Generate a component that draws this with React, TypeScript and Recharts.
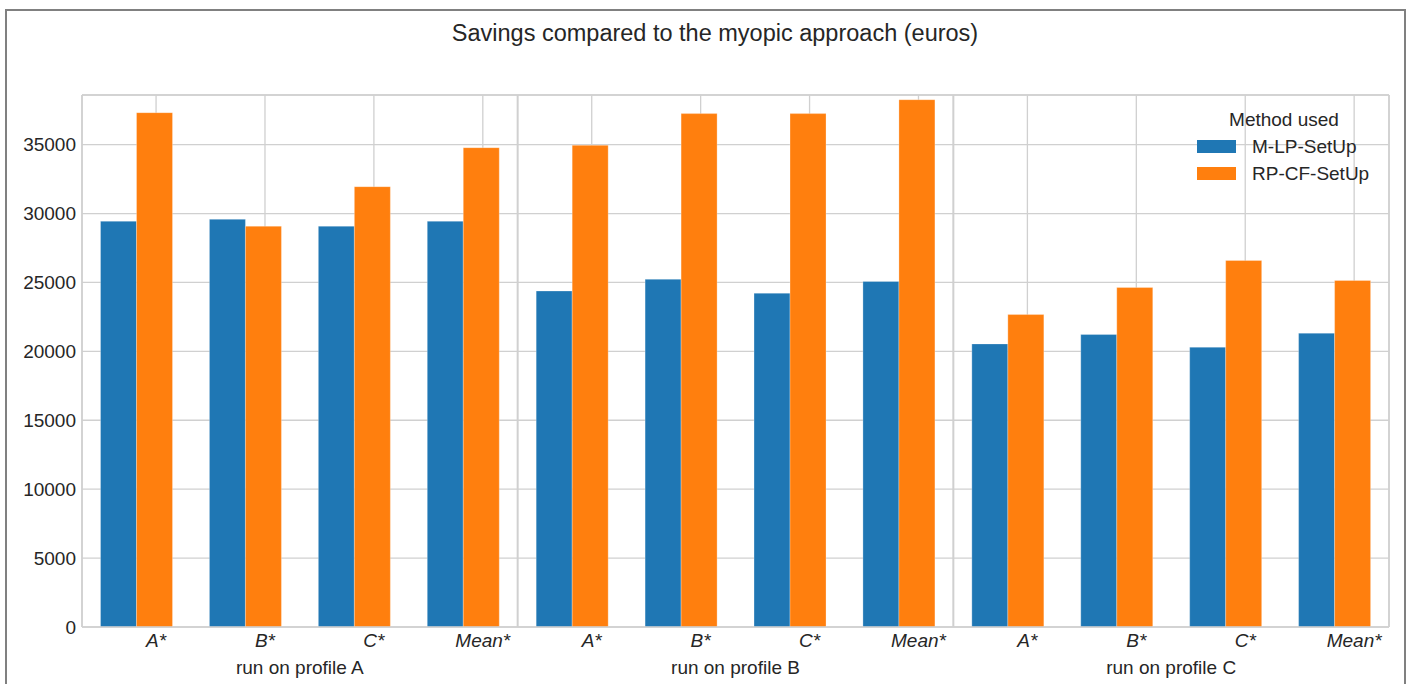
import React from 'react';
import {
  BarChart,
  Bar,
  XAxis,
  YAxis,
  CartesianGrid,
  ReferenceLine,
  Legend,
} from 'recharts';

// values (euros saved vs the myopic approach)
const profiles = ['run on profile A', 'run on profile B', 'run on profile C'];
const runs = ['A*', 'B*', 'C*', 'Mean*'];
const mlpSetUp = [29440, 29580, 29080, 29440, 24380, 25230, 24220, 25070, 20540, 21220, 20300, 21320];
const rpcfSetUp = [37320, 29080, 31950, 34780, 34950, 37250, 37250, 38260, 22670, 24630, 26590, 25140];
const yTicks = [0, 5000, 10000, 15000, 20000, 25000, 30000, 35000];

const BLUE = '#1f77b4';
const ORANGE = '#ff7f0e';
const GRID = '#d0d0d0';
const TEXT = '#262626';
const FONT = '"Liberation Sans", Arial, sans-serif';

const n = profiles.length * runs.length;
const data = mlpSetUp.map((v, i) => ({
  pos: i + 0.5,
  mlp: v,
  rpcf: rpcfSetUp[i],
}));
// tick labels sit under the second bar of each pair
const runTicks = data.map((_, i) => i + 0.68);
const profileTicks = profiles.map((_, g) => g * runs.length + runs.length / 2);

const series = [
  { key: 'mlp', name: 'M-LP-SetUp', color: BLUE },
  { key: 'rpcf', name: 'RP-CF-SetUp', color: ORANGE },
];

const LegendBox = () => (
  <div style={{ fontFamily: FONT, color: TEXT, fontSize: 19, width: 174 }}>
    <div style={{ textAlign: 'center', lineHeight: '27px' }}>Method used</div>
    {series.map((s) => (
      <div key={s.key} style={{ display: 'flex', alignItems: 'center', height: 27 }}>
        <span style={{ display: 'inline-block', width: 39, height: 13, background: s.color, marginRight: 16 }} />
        <span>{s.name}</span>
      </div>
    ))}
  </div>
);

export default function App() {
  return (
    <div style={{ position: 'absolute', left: 0, top: 0, width: 1408, height: 684, overflow: 'hidden', background: '#fff' }}>
      <div
        style={{
          position: 'absolute',
          left: 5,
          top: 9,
          width: 1397,
          height: 673,
          border: '2px solid #808080',
          borderBottom: 'none',
        }}
      />
      <div
        style={{
          position: 'absolute',
          left: 0,
          top: 18,
          width: 1430,
          textAlign: 'center',
          fontFamily: FONT,
          fontSize: 23.5,
          color: TEXT,
          lineHeight: '30px',
        }}
      >
        Savings compared to the myopic approach (euros)
      </div>
      <div style={{ position: 'absolute', left: 0, top: 0 }}>
        <BarChart
          width={1408}
          height={684}
          data={data}
          margin={{ top: 95, right: 19, left: 0, bottom: 0 }}
          barCategoryGap="17%"
          barGap={0}
        >
          <CartesianGrid xAxisId="lvl1" stroke={GRID} strokeWidth={1.3} />
          <XAxis
            xAxisId="lvl1"
            dataKey="pos"
            type="number"
            domain={[0, n]}
            ticks={runTicks}
            interval={0}
            tickFormatter={(v: number) => runs[Math.floor(v) % runs.length]}
            tick={{ fill: TEXT, fontSize: 19, fontFamily: FONT, fontStyle: 'italic' }}
            tickLine={false}
            tickSize={0}
            tickMargin={7}
            axisLine={{ stroke: GRID, strokeWidth: 1.6 }}
            height={27}
            allowDataOverflow
          />
          <XAxis
            xAxisId="lvl2"
            dataKey="pos"
            type="number"
            domain={[0, n]}
            ticks={profileTicks}
            interval={0}
            tickFormatter={(v: number) => profiles[Math.floor(v / runs.length)]}
            tick={{ fill: TEXT, fontSize: 19, fontFamily: FONT }}
            tickLine={false}
            tickSize={0}
            tickMargin={7}
            axisLine={false}
            height={30}
            allowDataOverflow
          />
          <YAxis
            domain={[0, 38600]}
            ticks={yTicks}
            interval={0}
            width={82}
            tick={{ fill: TEXT, fontSize: 19, fontFamily: FONT }}
            tickLine={false}
            tickSize={0}
            tickMargin={6}
            axisLine={{ stroke: GRID, strokeWidth: 1.6 }}
            allowDataOverflow
          />
          <ReferenceLine xAxisId="lvl1" x={4} stroke={GRID} strokeWidth={2} />
          <ReferenceLine xAxisId="lvl1" x={8} stroke={GRID} strokeWidth={2} />
          <ReferenceLine xAxisId="lvl1" x={n} stroke={GRID} strokeWidth={1.6} />
          <ReferenceLine xAxisId="lvl1" y={38600} stroke={GRID} strokeWidth={1.6} />
          {series.map((s) => (
            <Bar
              key={s.key}
              xAxisId="lvl1"
              dataKey={s.key}
              name={s.name}
              fill={s.color}
              stroke="#ffffff"
              strokeOpacity={0.35}
              strokeWidth={0.8}
              isAnimationActive={false}
            />
          ))}
          <Legend
            layout="horizontal"
            verticalAlign="middle"
            align="center"
            content={<LegendBox />}
            wrapperStyle={{ left: 1197, top: 106, width: 174, right: 'auto', bottom: 'auto' }}
          />
        </BarChart>
      </div>
    </div>
  );
}
